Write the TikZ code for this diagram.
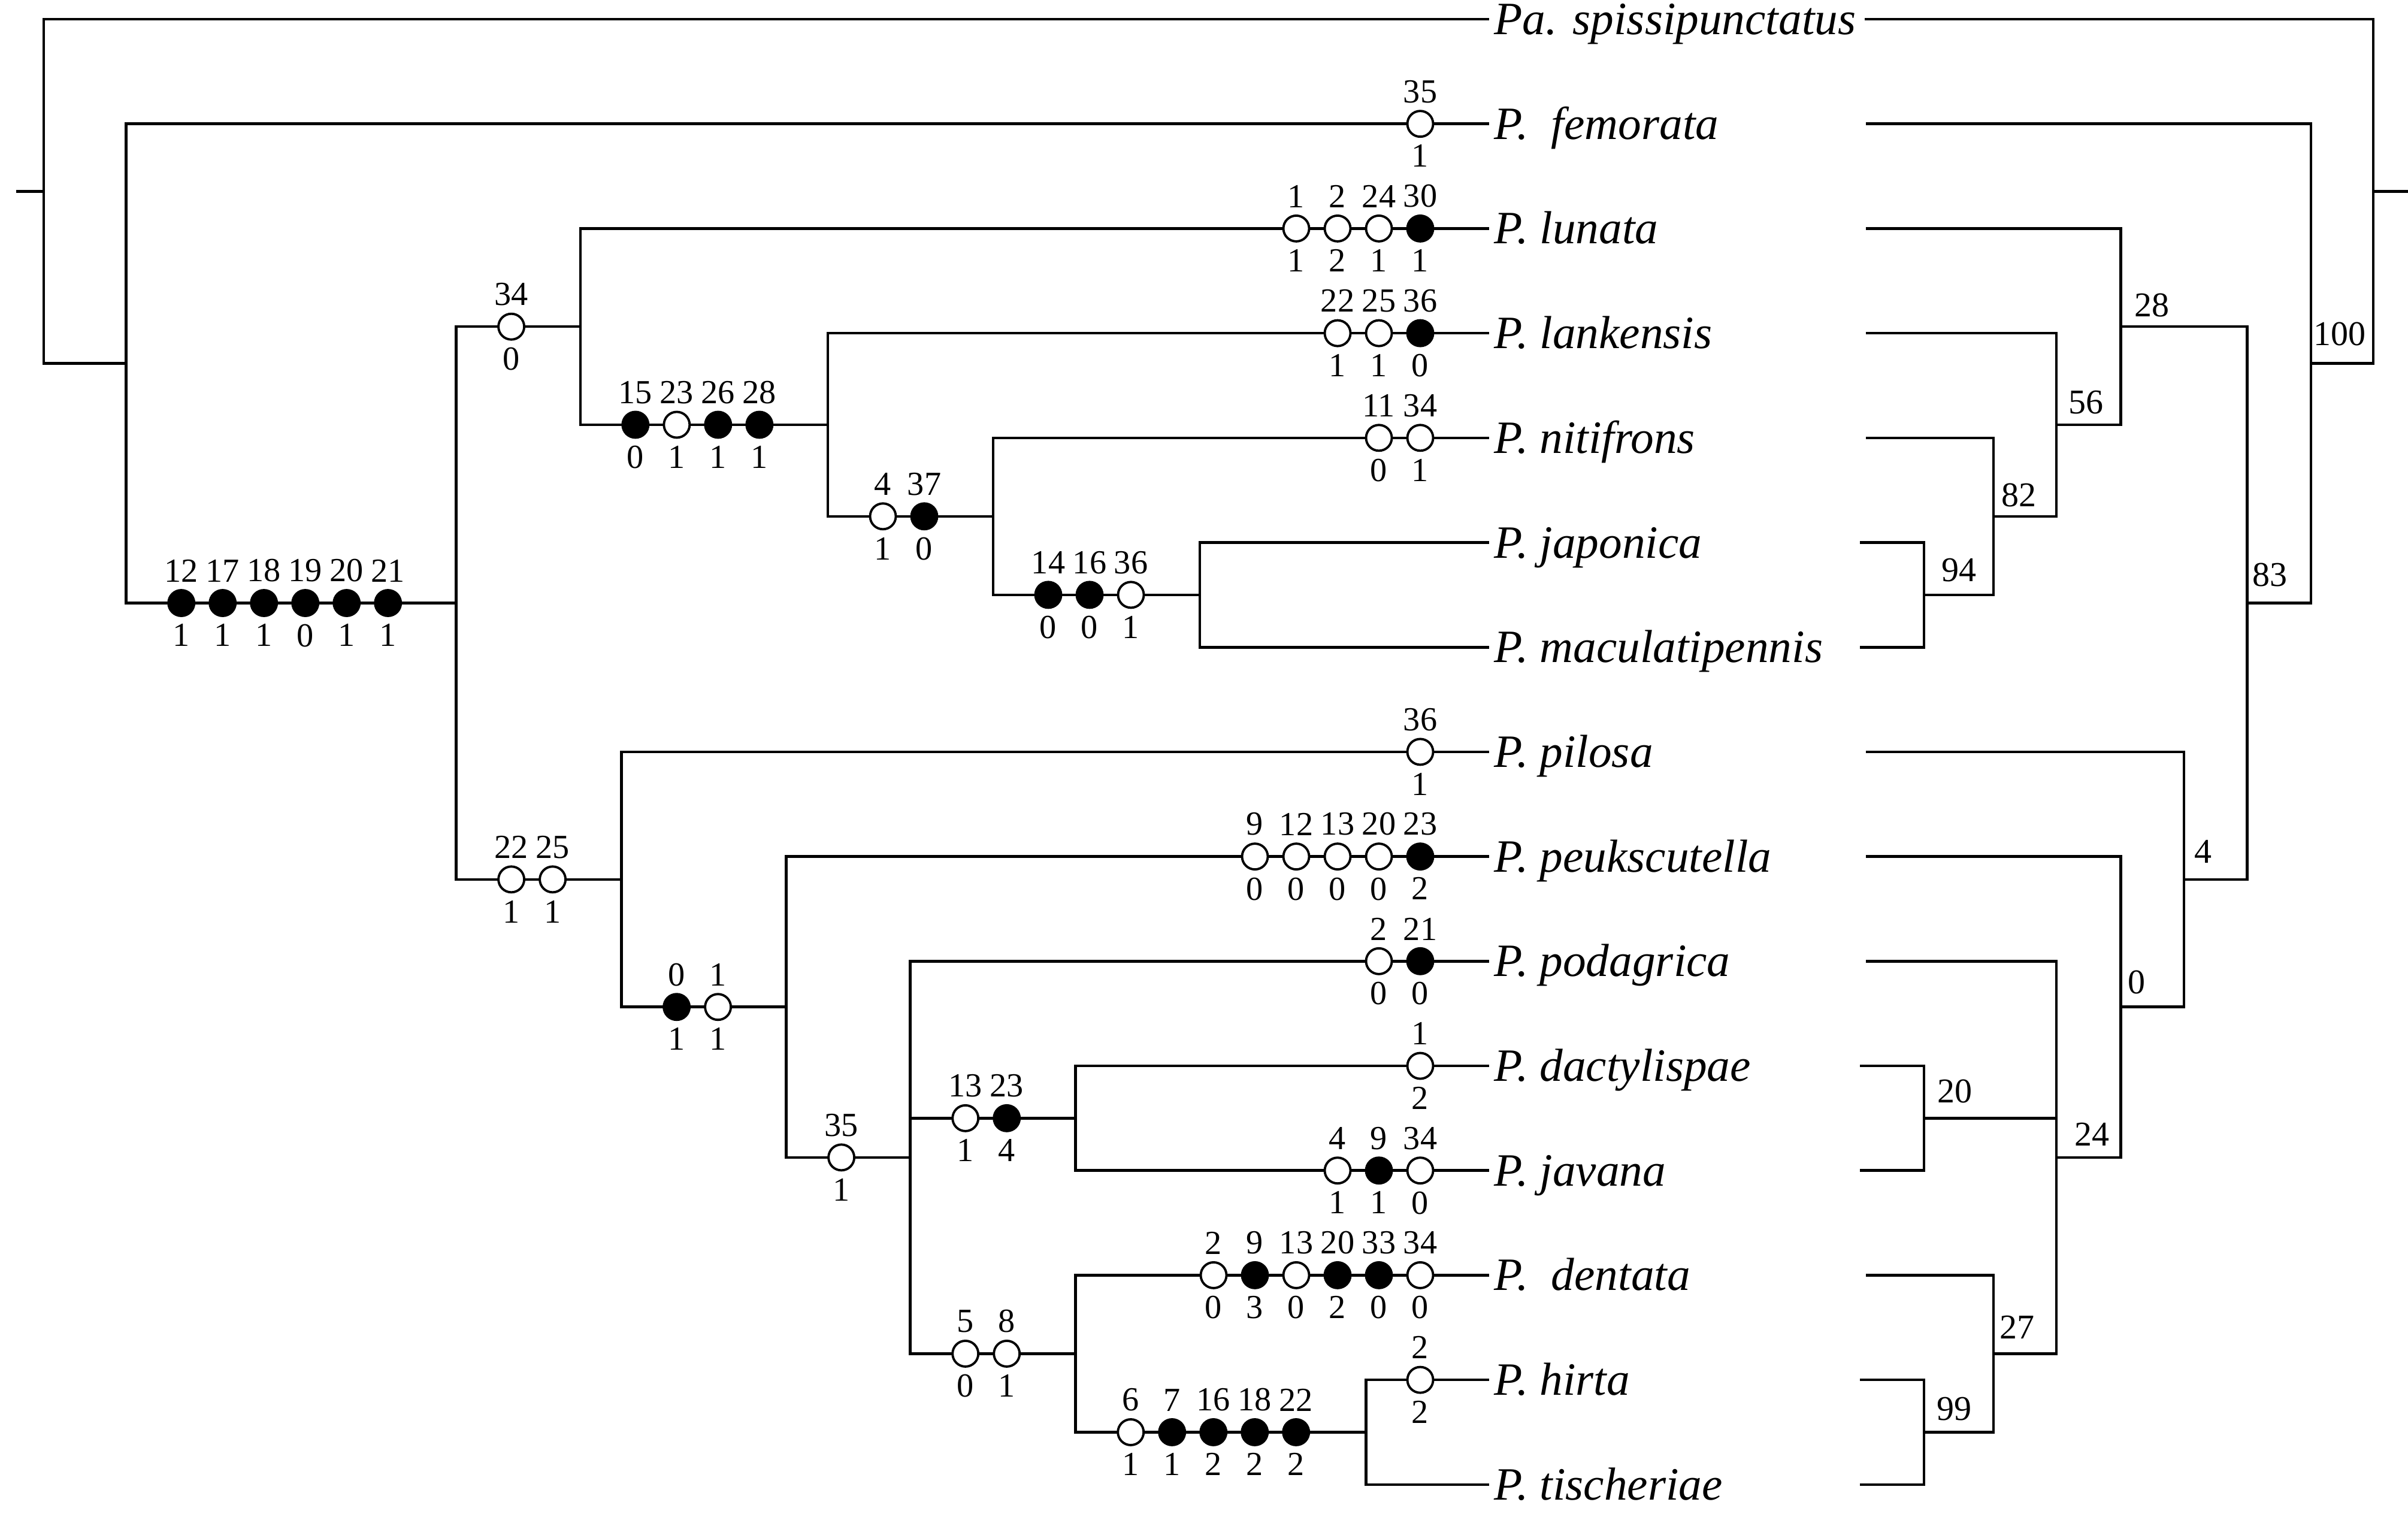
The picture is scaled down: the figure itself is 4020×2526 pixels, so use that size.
\documentclass[tikz,border=0pt]{standalone}
\usepackage{fontspec}
\setmainfont{Liberation Serif}
\newcommand{\apo}[6]{\node[#2, label={above:#5}, label={below:#6}] (#1) at (#3,#4) {};}
\tikzset{
  branch/.style={line width=1.3pt},
  homo/.style={circle, draw, fill=white, line width=1.1pt, minimum size=4.3mm, inner sep=0pt},
  uniq/.style={homo, fill=black},
  taxon/.style={anchor=west, inner sep=0.8mm, text height=5.1mm, text depth=0pt, font=\fontsize{22}{26}\selectfont\itshape},
  boot/.style={inner sep=0pt, font=\fontsize{16.5}{19}\selectfont},
  every label/.style={inner sep=0pt, font=\fontsize{16}{18}\selectfont}
}

\begin{document}
\begin{tikzpicture}[x=0.1mm, y=-0.1mm, label distance=1.1mm]
        \useasboundingbox (0,0) rectangle (4020,2526);
        \node[taxon] (t-spi) at (2486, 32) {Pa. spissipunctatus};
        \node[taxon] (t-fem) at (2486, 206.7) {P.\hspace{0.25em} femorata};
        \node[taxon] (t-lun) at (2486, 381.4) {P. lunata};
        \node[taxon] (t-lan) at (2486, 556.1) {P. lankensis};
        \node[taxon] (t-nit) at (2486, 730.8) {P. nitifrons};
        \node[taxon] (t-jap) at (2486, 905.5) {P. japonica};
        \node[taxon] (t-mac) at (2486, 1080.2) {P. maculatipennis};
        \node[taxon] (t-pil) at (2486, 1254.9) {P. pilosa};
        \node[taxon] (t-peu) at (2486, 1429.6) {P. peukscutella};
        \node[taxon] (t-pod) at (2486, 1604.3) {P. podagrica};
        \node[taxon] (t-dac) at (2486, 1779) {P. dactylispae};
        \node[taxon] (t-jav) at (2486, 1953.7) {P. javana};
        \node[taxon] (t-den) at (2486, 2128.4) {P.\hspace{0.25em} dentata};
        \node[taxon] (t-hir) at (2486, 2303.1) {P. hirta};
        \node[taxon] (t-tis) at (2486, 2477.8) {P. tischeriae};
        % character tree
        \coordinate (aS) at (27, 319.3);
        \coordinate (aR) at (73.2, 319.3);
        \coordinate (aA) at (210.7, 606.6);
        \coordinate (aB) at (761.6, 1006.5);
        \coordinate (aC) at (968.8, 545.2);
        \coordinate (aD) at (1382, 708.95);
        \coordinate (aE) at (1658, 861.8);
        \coordinate (aF) at (2003, 992.85);
        \coordinate (aG) at (1037.6, 1467.8);
        \coordinate (aH) at (1312.6, 1680.7);
        \coordinate (aI) at (1519.7, 1931.85);
        \coordinate (aJ) at (1795.7, 1866.35);
        \coordinate (aK) at (1795.7, 2259.4);
        \coordinate (aL) at (2280.7, 2390.45);
        \draw[branch] (aS) -- (aR);
        \draw[branch] (aR) |- (t-spi.west);
        \draw[branch] (aR) |- (aA);
        \draw[branch] (aA) |- (t-fem.west);
        \draw[branch] (aA) |- (aB);
        \draw[branch] (aB) |- (aC);
        \draw[branch] (aB) |- (aG);
        \draw[branch] (aC) |- (t-lun.west);
        \draw[branch] (aC) |- (aD);
        \draw[branch] (aD) |- (t-lan.west);
        \draw[branch] (aD) |- (aE);
        \draw[branch] (aE) |- (t-nit.west);
        \draw[branch] (aE) |- (aF);
        \draw[branch] (aF) |- (t-jap.west);
        \draw[branch] (aF) |- (t-mac.west);
        \draw[branch] (aG) |- (t-pil.west);
        \draw[branch] (aG) |- (aH);
        \draw[branch] (aH) |- (t-peu.west);
        \draw[branch] (aH) |- (aI);
        \draw[branch] (aI) |- (t-pod.west);
        \draw[branch] (aI) |- (aJ);
        \draw[branch] (aI) |- (aK);
        \draw[branch] (aJ) |- (t-dac.west);
        \draw[branch] (aJ) |- (t-jav.west);
        \draw[branch] (aK) |- (t-den.west);
        \draw[branch] (aK) |- (aL);
        \draw[branch] (aL) |- (t-hir.west);
        \draw[branch] (aL) |- (t-tis.west);
        \apo{c-fem-1}{homo}{2371}{206.7}{35}{1}
        \apo{c-lun-4}{homo}{2164}{381.4}{1}{1}
        \apo{c-lun-3}{homo}{2233}{381.4}{2}{2}
        \apo{c-lun-2}{homo}{2302}{381.4}{24}{1}
        \apo{c-lun-1}{uniq}{2371}{381.4}{30}{1}
        \apo{c-lan-3}{homo}{2233}{556.1}{22}{1}
        \apo{c-lan-2}{homo}{2302}{556.1}{25}{1}
        \apo{c-lan-1}{uniq}{2371}{556.1}{36}{0}
        \apo{c-nit-2}{homo}{2302}{730.8}{11}{0}
        \apo{c-nit-1}{homo}{2371}{730.8}{34}{1}
        \apo{c-pil-1}{homo}{2371}{1254.9}{36}{1}
        \apo{c-peu-5}{homo}{2095}{1429.6}{9}{0}
        \apo{c-peu-4}{homo}{2164}{1429.6}{12}{0}
        \apo{c-peu-3}{homo}{2233}{1429.6}{13}{0}
        \apo{c-peu-2}{homo}{2302}{1429.6}{20}{0}
        \apo{c-peu-1}{uniq}{2371}{1429.6}{23}{2}
        \apo{c-pod-2}{homo}{2302}{1604.3}{2}{0}
        \apo{c-pod-1}{uniq}{2371}{1604.3}{21}{0}
        \apo{c-dac-1}{homo}{2371}{1779}{1}{2}
        \apo{c-jav-3}{homo}{2233}{1953.7}{4}{1}
        \apo{c-jav-2}{uniq}{2302}{1953.7}{9}{1}
        \apo{c-jav-1}{homo}{2371}{1953.7}{34}{0}
        \apo{c-den-6}{homo}{2026}{2128.4}{2}{0}
        \apo{c-den-5}{uniq}{2095}{2128.4}{9}{3}
        \apo{c-den-4}{homo}{2164}{2128.4}{13}{0}
        \apo{c-den-3}{uniq}{2233}{2128.4}{20}{2}
        \apo{c-den-2}{uniq}{2302}{2128.4}{33}{0}
        \apo{c-den-1}{homo}{2371}{2128.4}{34}{0}
        \apo{c-hir-1}{homo}{2371}{2303.1}{2}{2}
        \apo{c-B-1}{uniq}{302.7}{1006.5}{12}{1}
        \apo{c-B-2}{uniq}{371.7}{1006.5}{17}{1}
        \apo{c-B-3}{uniq}{440.7}{1006.5}{18}{1}
        \apo{c-B-4}{uniq}{509.7}{1006.5}{19}{0}
        \apo{c-B-5}{uniq}{578.7}{1006.5}{20}{1}
        \apo{c-B-6}{uniq}{647.7}{1006.5}{21}{1}
        \apo{c-C-1}{homo}{853.6}{545.2}{34}{0}
        \apo{c-D-1}{uniq}{1060.8}{708.95}{15}{0}
        \apo{c-D-2}{homo}{1129.8}{708.95}{23}{1}
        \apo{c-D-3}{uniq}{1198.8}{708.95}{26}{1}
        \apo{c-D-4}{uniq}{1267.8}{708.95}{28}{1}
        \apo{c-E-1}{homo}{1474}{861.8}{4}{1}
        \apo{c-E-2}{uniq}{1543}{861.8}{37}{0}
        \apo{c-F-1}{uniq}{1750}{992.85}{14}{0}
        \apo{c-F-2}{uniq}{1819}{992.85}{16}{0}
        \apo{c-F-3}{homo}{1888}{992.85}{36}{1}
        \apo{c-G-1}{homo}{853.6}{1467.8}{22}{1}
        \apo{c-G-2}{homo}{922.6}{1467.8}{25}{1}
        \apo{c-H-1}{uniq}{1129.6}{1680.7}{0}{1}
        \apo{c-H-2}{homo}{1198.6}{1680.7}{1}{1}
        \apo{c-I-1}{homo}{1404.6}{1931.85}{35}{1}
        \apo{c-J-1}{homo}{1611.7}{1866.35}{13}{1}
        \apo{c-J-2}{uniq}{1680.7}{1866.35}{23}{4}
        \apo{c-K-1}{homo}{1611.7}{2259.4}{5}{0}
        \apo{c-K-2}{homo}{1680.7}{2259.4}{8}{1}
        \apo{c-L-1}{homo}{1887.7}{2390.45}{6}{1}
        \apo{c-L-2}{uniq}{1956.7}{2390.45}{7}{1}
        \apo{c-L-3}{uniq}{2025.7}{2390.45}{16}{2}
        \apo{c-L-4}{uniq}{2094.7}{2390.45}{18}{2}
        \apo{c-L-5}{uniq}{2163.7}{2390.45}{22}{2}
        % bootstrap tree
        \coordinate (e-spi) at (3113, 32);
        \coordinate (e-fem) at (3115, 206.7);
        \coordinate (e-lun) at (3115, 381.4);
        \coordinate (e-lan) at (3115, 556.1);
        \coordinate (e-nit) at (3115, 730.8);
        \coordinate (e-jap) at (3105, 905.5);
        \coordinate (e-mac) at (3105, 1080.2);
        \coordinate (e-pil) at (3115, 1254.9);
        \coordinate (e-peu) at (3115, 1429.6);
        \coordinate (e-pod) at (3115, 1604.3);
        \coordinate (e-dac) at (3105, 1779);
        \coordinate (e-jav) at (3105, 1953.7);
        \coordinate (e-den) at (3115, 2128.4);
        \coordinate (e-hir) at (3105, 2303.1);
        \coordinate (e-tis) at (3105, 2477.8);
        \coordinate (b94) at (3212, 992.85);
        \coordinate (b82) at (3328, 861.8);
        \coordinate (b56) at (3433, 708.95);
        \coordinate (b28) at (3540.6, 545.2);
        \coordinate (b99) at (3212, 2390.45);
        \coordinate (b27) at (3328, 2259.4);
        \coordinate (b20) at (3212, 1866.35);
        \coordinate (b24) at (3433, 1931.85);
        \coordinate (b0) at (3540.6, 1680.7);
        \coordinate (b4) at (3646, 1467.8);
        \coordinate (b83) at (3751.4, 1006.5);
        \coordinate (b100) at (3858, 606.6);
        \coordinate (bR) at (3962, 319.3);
        \coordinate (bS) at (4020, 319.3);
        \draw[branch] (e-spi) -| (bR);
        \draw[branch] (b100) -| (bR);
        \draw[branch] (bR) -- (bS);
        \draw[branch] (e-fem) -| (b100);
        \draw[branch] (b83) -| (b100);
        \draw[branch] (b28) -| (b83);
        \draw[branch] (b4) -| (b83);
        \draw[branch] (e-lun) -| (b28);
        \draw[branch] (b56) -| (b28);
        \draw[branch] (e-lan) -| (b56);
        \draw[branch] (b82) -| (b56);
        \draw[branch] (e-nit) -| (b82);
        \draw[branch] (b94) -| (b82);
        \draw[branch] (e-jap) -| (b94);
        \draw[branch] (e-mac) -| (b94);
        \draw[branch] (e-pil) -| (b4);
        \draw[branch] (b0) -| (b4);
        \draw[branch] (e-peu) -| (b0);
        \draw[branch] (b24) -| (b0);
        \draw[branch] (e-pod) -| (b24);
        \draw[branch] (b20) -| (b24);
        \draw[branch] (b27) -| (b24);
        \draw[branch] (e-dac) -| (b20);
        \draw[branch] (e-jav) -| (b20);
        \draw[branch] (e-den) -| (b27);
        \draw[branch] (b99) -| (b27);
        \draw[branch] (e-hir) -| (b99);
        \draw[branch] (e-tis) -| (b99);
        \node[boot] (s100) at (3906, 557) {100};
        \node[boot] (s83) at (3789, 959) {83};
        \node[boot] (s28) at (3592, 509) {28};
        \node[boot] (s56) at (3482, 672) {56};
        \node[boot] (s82) at (3370, 826) {82};
        \node[boot] (s94) at (3270, 952) {94};
        \node[boot] (s4) at (3678, 1421) {4};
        \node[boot] (s0) at (3567, 1639) {0};
        \node[boot] (s24) at (3492, 1893) {24};
        \node[boot] (s20) at (3263, 1821) {20};
        \node[boot] (s27) at (3367, 2215) {27};
        \node[boot] (s99) at (3262, 2352) {99};
\end{tikzpicture}
\end{document}
